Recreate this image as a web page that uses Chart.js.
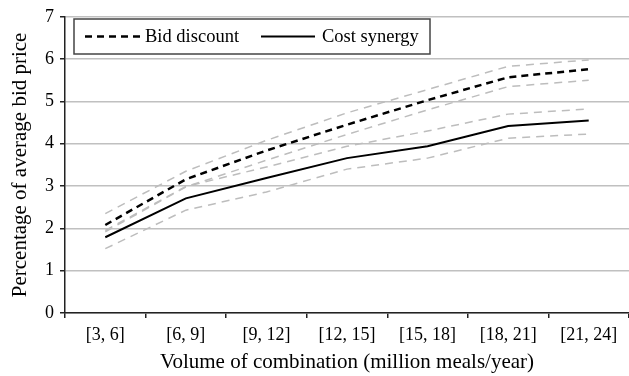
<!DOCTYPE html>
<html lang="en">
<head>
<meta charset="UTF-8">
<title>Bid discount vs cost synergy</title>
<script src="https://cdn.jsdelivr.net/npm/chart.js"></script>
<style>
  html, body { margin: 0; padding: 0; background: #fff; }
  #wrap { width: 629px; height: 376px; }
</style>
</head>
<body>
<div id="wrap"><canvas id="chart" width="629" height="376"></canvas></div>
<script>
const categories = ['[3, 6]', '[6, 9]', '[9, 12]', '[12, 15]', '[15, 18]', '[18, 21]', '[21, 24]'];
const bidDiscount = [2.08, 3.16, 3.84, 4.45, 5.03, 5.57, 5.76];
const bidUpper = [2.35, 3.35, 4.08, 4.73, 5.28, 5.83, 5.98];
const bidLower = [1.92, 2.98, 3.61, 4.22, 4.80, 5.35, 5.50];
const costSynergy = [1.79, 2.71, 3.19, 3.66, 3.94, 4.42, 4.55];
const costUpper = [1.95, 2.99, 3.45, 3.94, 4.30, 4.70, 4.82];
const costLower = [1.52, 2.43, 2.86, 3.40, 3.66, 4.13, 4.23];
const yTicks = [0, 1, 2, 3, 4, 5, 6, 7];

const serif = '"Liberation Serif", "Times New Roman", serif';

function band(data) {
  return {
    label: '', data: data, borderColor: '#bdbdbd', borderWidth: 1.5,
    borderDash: [8, 6], pointRadius: 0, fill: false, tension: 0, inLegend: false
  };
}

// legend drawn in a box inside the plot, like the original
const boxLegend = {
  id: 'boxLegend',
  afterDraw(chart) {
    const ctx = chart.ctx;
    const x = 74, y = 19, w = 356, h = 35;
    ctx.save();
    ctx.fillStyle = '#fff';
    ctx.fillRect(x, y, w, h);
    ctx.strokeStyle = '#444';
    ctx.lineWidth = 1.5;
    ctx.strokeRect(x, y, w, h);
    ctx.font = '18.5px ' + serif;
    ctx.fillStyle = '#000';
    ctx.textBaseline = 'middle';
    const items = chart.data.datasets.filter(d => d.inLegend);
    const spots = [[85, 56, 145], [261, 54, 322]];
    items.forEach((d, i) => {
      const [lx, len, tx] = spots[i];
      ctx.beginPath();
      ctx.strokeStyle = d.borderColor;
      ctx.lineWidth = d.borderWidth;
      ctx.setLineDash(d.borderDash || []);
      ctx.moveTo(lx, y + h / 2);
      ctx.lineTo(lx + len, y + h / 2);
      ctx.stroke();
      ctx.setLineDash([]);
      ctx.fillText(d.label, tx, y + h / 2 + 1);
    });
    ctx.restore();
  }
};

new Chart(document.getElementById('chart'), {
  type: 'line',
  data: {
    labels: categories,
    datasets: [
      band(bidUpper), band(bidLower), band(costUpper), band(costLower),
      { label: 'Bid discount', data: bidDiscount, borderColor: '#000', borderWidth: 2.5,
        borderDash: [7, 5], pointRadius: 0, tension: 0, inLegend: true },
      { label: 'Cost synergy', data: costSynergy, borderColor: '#000', borderWidth: 2,
        pointRadius: 0, tension: 0, inLegend: true }
    ]
  },
  options: {
    responsive: false,
    animation: false,
    layout: { padding: { top: 15, right: 0, left: 0, bottom: 0 } },
    plugins: { legend: { display: false }, tooltip: { enabled: false } },
    scales: {
      x: {
        offset: true,
        grid: { offset: true, drawOnChartArea: false, drawTicks: true, tickLength: 5, tickColor: '#222', lineWidth: 1.5 },
        border: { color: '#222', width: 1.5 },
        ticks: { color: '#000', font: { family: serif, size: 18 }, padding: 6, maxRotation: 0 },
        title: { display: true, text: 'Volume of combination (million meals/year)', color: '#000',
          font: { family: serif, size: 21 }, padding: { top: 2, bottom: 1 } },
        afterFit(scale) { scale.height = 63; }
      },
      y: {
        min: 0, max: 7,
        afterBuildTicks(scale) { scale.ticks = yTicks.map(v => ({ value: v })); },
        grid: { color: '#c0c0c0', lineWidth: 1.5, tickLength: 5, tickColor: '#222' },
        border: { color: '#222', width: 1.5 },
        ticks: { color: '#000', font: { family: serif, size: 18 }, padding: 6 },
        title: { display: true, text: 'Percentage of average bid price', color: '#000',
          font: { family: serif, size: 21 }, padding: { top: 8, bottom: 0 } },
        afterFit(scale) { scale.width = 65; }
      }
    }
  },
  plugins: [boxLegend]
});
</script>
</body>
</html>
